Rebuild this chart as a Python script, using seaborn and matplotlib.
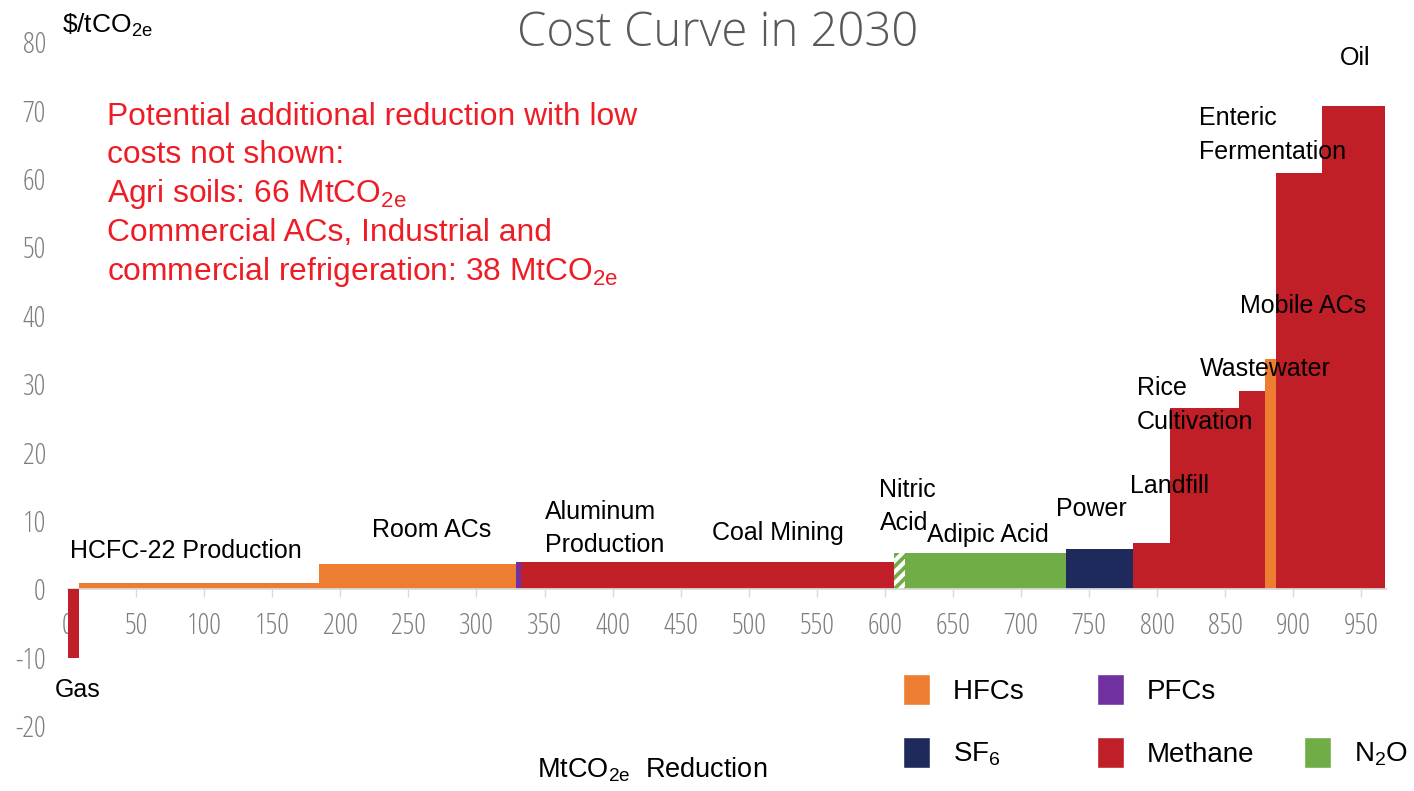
import numpy as np
import matplotlib
matplotlib.use("Agg")
import matplotlib.pyplot as plt
from matplotlib import font_manager
from matplotlib.patches import Patch
import seaborn as sns

# ---------------- data ----------------
categories = ["Gas", "HCFC-22 Production", "Room ACs", "PFC sliver", "Aluminum Production",
              "Coal Mining", "Nitric Acid", "Adipic Acid", "Power", "Landfill",
              "Rice Cultivation", "Wastewater", "Mobile ACs", "Enteric Fermentation", "Oil"]
widths = [8, 176, 145, 4, 122, 152, 8, 118, 49, 27, 51, 19, 8, 34, 46]          # MtCO2e
costs = [-10, 0.9, 3.7, 4.0, 4.0, 4.0, 5.3, 5.3, 5.9, 6.8, 26.5, 29.0, 33.6, 60.8, 70.6]  # $/tCO2e
gas_types = ["Methane", "HFCs", "HFCs", "PFCs", "Methane", "Methane", "N2O", "N2O", "SF6",
             "Methane", "Methane", "Methane", "HFCs", "Methane", "Methane"]
x_ticks = list(range(0, 951, 50))
y_ticks = list(range(-20, 81, 10))

palette = {"HFCs": "#ED7D31", "PFCs": "#7030A0", "SF6": "#1F2A5C",
           "Methane": "#C01F27", "N2O": "#70AD47"}

# ---------------- style ----------------
sns.set_theme(style="white")
names = {f.name for f in font_manager.fontManager.ttflist}
main_font = "Liberation Sans" if "Liberation Sans" in names else "DejaVu Sans"
plt.rcParams["font.family"] = [main_font, "DejaVu Sans"]
plt.rcParams["text.color"] = "black"
plt.rcParams["axes.unicode_minus"] = False
plt.rcParams["mathtext.fontset"] = "custom"
plt.rcParams["mathtext.rm"] = main_font
plt.rcParams["mathtext.default"] = "regular"
plt.rcParams["hatch.linewidth"] = 3.0

tick_fp = font_manager.FontProperties(family=["Open Sans", main_font], stretch="condensed",
                                      weight=300, size=21)

fig = plt.figure(figsize=(14.14, 7.91), dpi=100)
ax = fig.add_axes([68 / 1414, 1 - 726 / 791, (1386 - 68) / 1414, 684 / 791])

edges = np.concatenate([[0], np.cumsum(widths)])
for i, cat in enumerate(categories):
    left, right = edges[i], edges[i + 1]
    sns.histplot(x=[(left + right) / 2], weights=[costs[i]], bins=[left, right],
                 color=palette[gas_types[i]], alpha=1, ax=ax)
    p = ax.patches[-1]
    p.set_facecolor(palette[gas_types[i]])
    p.set_linewidth(0)
    p.set_edgecolor(palette[gas_types[i]])
    if cat == "Gas":
        p.set_zorder(3)
    if cat == "Nitric Acid":
        p.set_hatch("///")
        p.set_edgecolor("white")

ax.set_xlim(0, 968)
ax.set_ylim(-20, 80)
ax.set_xlabel("")
ax.set_ylabel("")
ax.set_xticks(x_ticks)
ax.set_yticks(y_ticks)
for s in ["top", "right", "left"]:
    ax.spines[s].set_visible(False)
ax.spines["bottom"].set_position(("data", 0))
ax.spines["bottom"].set_color("#D9D9D9")
ax.spines["bottom"].set_linewidth(1.3)
ax.tick_params(axis="x", which="both", bottom=True, direction="out", length=5.8,
               width=1.0, color="#D9D9D9", pad=10, labelcolor="#7F7F7F")
ax.tick_params(axis="y", length=0, pad=16, labelcolor="#7F7F7F")
for lab in ax.get_xticklabels() + ax.get_yticklabels():
    lab.set_fontproperties(tick_fp)
ax.grid(False)

# bar labels (left x, center y in data units)
label_pos = {
    "HCFC-22 Production": (1.5, 5.6),
    "Room ACs": (223, 8.6),
    "Aluminum\nProduction": (350, 8.9),
    "Coal Mining": (473, 8.2),
    "Nitric\nAcid": (596, 12.1),
    "Adipic Acid": (631, 7.9),
    "Power": (726, 11.7),
    "Landfill": (780, 15.1),
    "Rice\nCultivation": (785, 26.9),
    "Wastewater": (831, 32.2),
    "Mobile ACs": (860.5, 41.4),
    "Enteric\nFermentation": (831, 66.4),
    "Oil": (934, 77.6),
    "Gas": (-9.5, -14.8),
}
for txt, (lx, ly) in label_pos.items():
    ax.text(lx, ly, txt, ha="left", va="center", fontsize=18, color="black",
            linespacing=1.5, clip_on=False, zorder=5)

# red note
note_lines = ["Potential additional reduction with low",
              "costs not shown:",
              "Agri soils: 66 MtCO$_{2e}$",
              "Commercial ACs, Industrial and",
              "commercial refrigeration: 38 MtCO$_{2e}$"]
note_baselines = [125, 163, 202, 241, 280]
for line, by in zip(note_lines, note_baselines):
    fig.text(107 / 1414, 1 - by / 791, line, ha="left", va="baseline",
             fontsize=22.9, color="#EE1C25")

# title and axis titles
fig.text(718 / 1414, 1 - 46 / 791, "Cost Curve in 2030", ha="center", va="baseline",
         fontsize=34, color="#595959", family=["Open Sans", main_font], fontweight="light")
fig.text(62 / 1414, 1 - 33 / 791, r"\$/tCO$_{2e}$", ha="left", va="baseline",
         fontsize=19, color="black")
fig.text(537 / 1414, 1 - 778 / 791, r"MtCO$_{2e}$  Reduction", ha="left", va="baseline",
         fontsize=19.5, color="black")

# legend
handles = [Patch(facecolor=palette["HFCs"]), Patch(facecolor=palette["SF6"]),
           Patch(facecolor=palette["PFCs"]), Patch(facecolor=palette["Methane"]),
           Patch(facecolor="none", edgecolor="none"), Patch(facecolor=palette["N2O"])]
labels = ["HFCs   ", "SF$_6$", "PFCs", "Methane", "", "N$_2$O"]
fig.legend(handles, labels, ncol=3, loc="upper left",
           bbox_to_anchor=(903 / 1414, 1 - 674 / 791), bbox_transform=fig.transFigure,
           frameon=False, fontsize=20, handlelength=0.97, handleheight=1.35,
           handletextpad=0.82, columnspacing=1.8, labelspacing=1.15,
           borderpad=0, borderaxespad=0, labelcolor="black")

fig.savefig("out.png", dpi=100)
